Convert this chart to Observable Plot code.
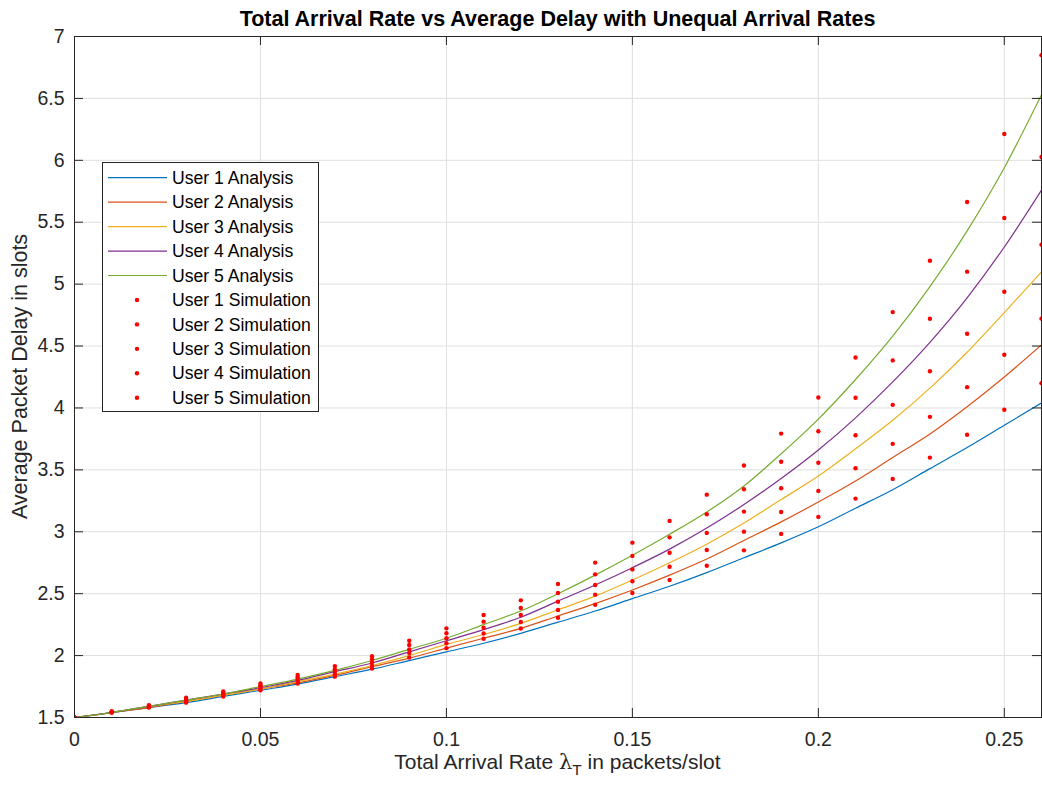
<!DOCTYPE html>
<html><head><meta charset="utf-8">
<script src="https://cdn.jsdelivr.net/npm/d3@7"></script>
<script src="https://cdn.jsdelivr.net/npm/@observablehq/plot@0.6"></script>
<style>
body{margin:0;background:#fff}
#chart svg{font-family:"Liberation Sans",Arial,Helvetica,sans-serif}
</style>
</head><body><div id="chart"></div>
<script>
// ---- data ----
const rates = [0,0.01,0.02,0.03,0.04,0.05,0.06,0.07,0.08,0.09,0.10,0.11,0.12,0.13,0.14,0.15,0.16,0.17,0.18,0.19,0.20,0.21,0.22,0.23,0.24,0.25,0.26];

const user1Analysis = [1.50,1.54,1.58,1.62,1.67,1.72,1.77,1.83,1.89,1.96,2.03,2.10,2.18,2.27,2.36,2.46,2.56,2.67,2.79,2.91,3.04,3.19,3.34,3.51,3.68,3.86,4.04];
const user2Analysis = [1.50,1.54,1.58,1.63,1.68,1.73,1.78,1.84,1.91,1.98,2.06,2.14,2.22,2.32,2.42,2.53,2.65,2.78,2.93,3.08,3.24,3.41,3.60,3.79,4.01,4.25,4.51];
const user3Analysis = [1.50,1.54,1.59,1.63,1.68,1.73,1.79,1.85,1.92,2.00,2.09,2.17,2.26,2.37,2.48,2.61,2.75,2.90,3.07,3.26,3.45,3.67,3.90,4.16,4.45,4.77,5.10];
const user4Analysis = [1.50,1.54,1.59,1.64,1.69,1.74,1.80,1.87,1.94,2.03,2.12,2.21,2.31,2.44,2.57,2.71,2.86,3.03,3.22,3.43,3.66,3.92,4.21,4.53,4.89,5.30,5.76];
const user5Analysis = [1.50,1.54,1.59,1.64,1.69,1.75,1.81,1.88,1.96,2.05,2.14,2.25,2.36,2.50,2.65,2.81,2.98,3.16,3.37,3.63,3.91,4.23,4.58,4.98,5.43,5.94,6.53];

const user1Simulation = [1.5,1.54,1.58,1.62,1.67,1.72,1.775,1.83,1.895,1.985,2.06,2.136,2.219,2.306,2.411,2.506,2.611,2.726,2.850,2.983,3.120,3.268,3.427,3.599,3.783,3.985,4.200];
const user2Simulation = [1.5,1.54,1.585,1.63,1.68,1.735,1.79,1.85,1.92,2.02,2.10,2.179,2.271,2.368,2.492,2.600,2.718,2.853,3.001,3.160,3.330,3.513,3.710,3.928,4.168,4.430,4.721];
const user3Simulation = [1.5,1.545,1.59,1.64,1.69,1.75,1.81,1.87,1.945,2.05,2.14,2.225,2.328,2.435,2.570,2.696,2.831,2.991,3.163,3.351,3.557,3.780,4.025,4.297,4.599,4.939,5.319];
const user4Simulation = [1.5,1.545,1.595,1.65,1.70,1.76,1.825,1.89,1.97,2.085,2.18,2.274,2.384,2.506,2.656,2.805,2.955,3.141,3.343,3.565,3.812,4.082,4.384,4.721,5.101,5.534,6.027];
const user5Simulation = [1.5,1.55,1.60,1.66,1.71,1.775,1.843,1.915,1.995,2.12,2.22,2.328,2.446,2.578,2.751,2.912,3.088,3.300,3.535,3.793,4.085,4.408,4.774,5.189,5.663,6.213,6.849];

const users = ["User 1","User 2","User 3","User 4","User 5"];
const analysisLabels = ["User 1 Analysis","User 2 Analysis","User 3 Analysis","User 4 Analysis","User 5 Analysis"];
const simulationLabels = ["User 1 Simulation","User 2 Simulation","User 3 Simulation","User 4 Simulation","User 5 Simulation"];
const userColors = ["#0072BD","#D95319","#EDB120","#7E2F8E","#77AC30"];
const simColor = "#ff0000";

const xTicks = [0,0.05,0.1,0.15,0.2,0.25];
const yTicks = [1.5,2,2.5,3,3.5,4,4.5,5,5.5,6,6.5,7];

const titleText = "Total Arrival Rate vs Average Delay with Unequal Arrival Rates";
const yLabelText = "Average Packet Delay in slots";

// ---- build tables ----
const analysisSeries = [user1Analysis,user2Analysis,user3Analysis,user4Analysis,user5Analysis];
const simulationSeries = [user1Simulation,user2Simulation,user3Simulation,user4Simulation,user5Simulation];
const analysisRows = [];
const simulationRows = [];
users.forEach((u,i) => {
  rates.forEach((r,j) => {
    analysisRows.push({user:u, rate:r, delay:analysisSeries[i][j]});
    simulationRows.push({user:u, rate:r, delay:simulationSeries[i][j]});
  });
});

// ---- layout ----
const W = 1042, H = 790;
const mL = 74, mR = 1, mT = 36, mB = 73;
const plotW = W - mL - mR, plotH = H - mT - mB;
const tickLen = 9;
const axisColor = "#262626";
const gridColor = "#dfdfdf";
const font = '"Liberation Sans",Arial,Helvetica,sans-serif';

const chart = Plot.plot({
  width: W, height: H,
  marginLeft: mL, marginRight: mR, marginTop: mT, marginBottom: mB,
  style: {fontFamily: font, fontSize: "19.5px", color: axisColor, background: "#fff"},
  x: {type: "linear", domain: [0, 0.26]},
  y: {type: "linear", domain: [1.5, 7]},
  color: {domain: users, range: userColors},
  marks: [
    Plot.gridX(xTicks, {stroke: gridColor, strokeOpacity: 1}),
    Plot.gridY(yTicks, {stroke: gridColor, strokeOpacity: 1}),
    Plot.line(analysisRows, {x: "rate", y: "delay", z: "user", stroke: "user", curve: "monotone-x", strokeWidth: 1.2, clip: true}),
    Plot.dot(simulationRows, {x: "rate", y: "delay", r: 2.2, fill: simColor, stroke: "none", clip: true}),
    // inward ticks on all four sides
    Plot.tickX(xTicks, {x: d => d, insetTop: plotH - tickLen, stroke: axisColor}),
    Plot.tickX(xTicks, {x: d => d, insetBottom: plotH - tickLen, stroke: axisColor}),
    Plot.tickY(yTicks, {y: d => d, insetRight: plotW - tickLen, stroke: axisColor}),
    Plot.tickY(yTicks, {y: d => d, insetLeft: plotW - tickLen, stroke: axisColor}),
    Plot.axisX(xTicks, {anchor: "bottom", tickSize: 0, tickPadding: 15, tickFormat: d => String(d), label: null, fontSize: 19.5, color: axisColor}),
    Plot.axisY(yTicks, {anchor: "left", tickSize: 0, tickPadding: 10, tickFormat: d => String(d), label: null, fontSize: 19.5, color: axisColor}),
    Plot.frame({stroke: axisColor, strokeWidth: 1})
  ]
});
document.getElementById("chart").appendChild(chart);

// ---- title, axis labels, legend ----
const svg = d3.select(chart);

svg.append("text")
  .attr("x", mL + plotW/2).attr("y", 25.5)
  .attr("text-anchor", "middle")
  .attr("font-family", font).attr("font-size", 21.5).attr("font-weight", "bold")
  .attr("fill", "#000")
  .text(titleText);

const xl = svg.append("text")
  .attr("x", mL + plotW/2).attr("y", 769)
  .attr("text-anchor", "middle")
  .attr("font-family", font).attr("font-size", 21)
  .attr("fill", axisColor);
xl.append("tspan").text("Total Arrival Rate ");
xl.append("tspan").attr("font-family", '"DejaVu Serif",serif').text("λ");
xl.append("tspan").attr("dy", 6).attr("font-size", 15.5).text("T");
xl.append("tspan").attr("dy", -6).text(" in packets/slot");

svg.append("text")
  .attr("transform", `translate(27,${mT + plotH/2}) rotate(-90)`)
  .attr("text-anchor", "middle")
  .attr("font-family", font).attr("font-size", 21.5)
  .attr("fill", axisColor)
  .text(yLabelText);

// legend
const lg = svg.append("g").attr("transform", "translate(102,162)");
lg.append("rect").attr("x", 0.5).attr("y", 0.5).attr("width", 216).attr("height", 249)
  .attr("fill", "#fff").attr("stroke", axisColor).attr("stroke-width", 1);
const rowY = i => 15.7 + i * 24.45;
analysisLabels.forEach((lab, i) => {
  lg.append("line").attr("x1", 6).attr("x2", 65).attr("y1", rowY(i)).attr("y2", rowY(i))
    .attr("stroke", userColors[i]).attr("stroke-width", 1.2);
  lg.append("text").attr("x", 70).attr("y", rowY(i)).attr("dy", "0.35em")
    .attr("text-anchor", "start")
    .attr("font-family", font).attr("font-size", 17.6).attr("fill", "#000").text(lab);
});
simulationLabels.forEach((lab, k) => {
  const i = k + 5;
  lg.append("circle").attr("cx", 35).attr("cy", rowY(i)).attr("r", 2.2).attr("fill", simColor);
  lg.append("text").attr("x", 70).attr("y", rowY(i)).attr("dy", "0.35em")
    .attr("text-anchor", "start")
    .attr("font-family", font).attr("font-size", 17.6).attr("fill", "#000").text(lab);
});
</script>
</body></html>
